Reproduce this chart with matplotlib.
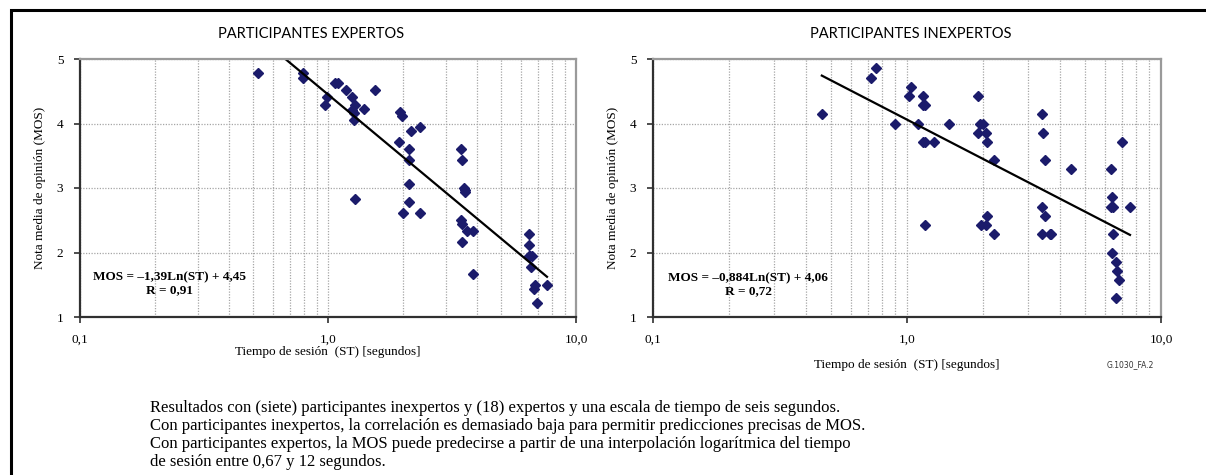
import numpy as np
import matplotlib
matplotlib.use("Agg")
import matplotlib.pyplot as plt
from matplotlib.patches import Rectangle
from matplotlib.ticker import FixedLocator, NullFormatter, LogLocator

# ---------------- data ----------------
exp_st = [0.523, 0.794, 0.794, 0.972, 0.989, 1.066, 1.096, 1.185, 1.245, 1.28,
          1.25, 1.27, 1.27, 1.395, 1.546, 1.95, 1.99, 2.16, 2.34, 1.94,
          2.12, 2.12, 3.44, 3.48, 2.12, 1.28, 2.12, 2.01, 2.34, 3.55,
          3.58, 3.58, 3.43, 3.48, 3.63, 3.83, 3.48, 3.83, 6.47, 6.47,
          6.47, 6.55, 6.65, 6.6, 6.82, 6.75, 7.64, 6.97]
exp_mos = [4.79, 4.79, 4.70, 4.29, 4.41, 4.63, 4.63, 4.52, 4.41, 4.29,
           4.21, 4.17, 4.06, 4.23, 4.52, 4.18, 4.11, 3.89, 3.95, 3.72,
           3.60, 3.44, 3.60, 3.44, 3.06, 2.83, 2.78, 2.61, 2.61, 3.00,
           2.97, 2.94, 2.50, 2.44, 2.33, 2.33, 2.17, 1.67, 2.28, 2.11,
           1.94, 1.94, 1.94, 1.78, 1.50, 1.44, 1.50, 1.22]

inx_st = [0.462, 0.719, 0.753, 0.894, 1.02, 1.04, 1.107, 1.155, 1.155, 1.175,
          1.155, 1.175, 1.274, 1.47, 1.90, 1.94, 1.99, 1.90, 2.04, 2.06,
          2.21, 3.39, 3.43, 3.49, 7.01, 4.44, 6.38, 1.175, 1.95, 2.04,
          2.06, 2.21, 3.39, 3.49, 3.41, 3.64, 3.70, 6.42, 6.38, 6.50,
          7.55, 6.50, 6.42, 6.68, 6.74, 6.83, 6.68]
inx_mos = [4.14, 4.71, 4.86, 4.00, 4.43, 4.57, 4.00, 4.43, 4.29, 4.29,
           3.71, 3.71, 3.71, 4.00, 4.43, 4.00, 4.00, 3.86, 3.86, 3.71,
           3.43, 4.14, 3.86, 3.43, 3.71, 3.29, 3.29, 2.43, 2.43, 2.43,
           2.57, 2.29, 2.71, 2.57, 2.29, 2.29, 2.29, 2.86, 2.71, 2.71,
           2.71, 2.29, 2.00, 1.86, 1.71, 1.57, 1.29]

# regression (as printed on the chart) and its plotted ST range
exp_fit = (-1.39, 4.45)
exp_fit_range = [0.673, 7.64]
inx_fit = (-0.884, 4.06)
inx_fit_range = [0.462, 7.55]

titles = ["PARTICIPANTES EXPERTOS", "PARTICIPANTES INEXPERTOS"]
eq_texts = ["MOS = \u20131,39Ln(ST) + 4,45\nR = 0,91",
            "MOS = \u20130,884Ln(ST) + 4,06\nR = 0,72"]
xtick_vals = [0.1, 1.0, 10.0]
xtick_labels = ["0,1", "1,0", "10,0"]
ytick_vals = [1, 2, 3, 4, 5]
ylabel = "Nota media de opini\u00f3n (MOS)"
xlabel = "Tiempo de sesi\u00f3n  (ST) [segundos]"
caption = ["Resultados con (siete) participantes inexpertos y (18) expertos y una escala de tiempo de seis segundos.",
           "Con participantes inexpertos, la correlaci\u00f3n es demasiado baja para permitir predicciones precisas de MOS.",
           "Con participantes expertos, la MOS puede predecirse a partir de una interpolaci\u00f3n logar\u00edtmica del tiempo",
           "de sesi\u00f3n entre 0,67 y 12 segundos."]
fig_code = "G.1030_FA.2"

# ---------------- figure ----------------
W, H = 1206, 475
fig = plt.figure(figsize=(W / 100, H / 100), dpi=100)
SERIF = "Liberation Serif"
SANS = "Lato"

def px(x, y):
    return x / W, 1 - y / H

# outer frame
fig.patches.append(Rectangle(px(11, 600), 2.0, (600 - 10) / H, transform=fig.transFigure,
                             fill=False, edgecolor="black", linewidth=2.2))

axes_px = [(80, 576), (653, 1161)]
top, bottom = 59, 317
datasets = [(exp_st, exp_mos, exp_fit, exp_fit_range),
            (inx_st, inx_mos, inx_fit, inx_fit_range)]
title_x = [311, 911]
xlabel_pos = [(328, 352), (907, 365)]
eq_pos = [(0.23, 1.52), (0.237, 1.50)]

for i, ((x0, x1), (st, mos, fit, frange)) in enumerate(zip(axes_px, datasets)):
    ax = fig.add_axes([x0 / W, 1 - bottom / H, (x1 - x0) / W, (bottom - top) / H])
    ax.set_xscale("log")
    ax.set_xlim(0.1, 10)
    ax.set_ylim(1, 5)
    # grid
    ax.xaxis.set_major_locator(FixedLocator(xtick_vals))
    ax.xaxis.set_minor_locator(LogLocator(base=10, subs=np.arange(2, 10)))
    ax.xaxis.set_minor_formatter(NullFormatter())
    ax.set_xticklabels(xtick_labels)
    ax.set_yticks(ytick_vals)
    ax.set_yticklabels([str(v) for v in ytick_vals])
    ax.grid(True, which="both", axis="x", linestyle=(0, (1, 1.2)), color="#a6a6a6", linewidth=0.9)
    ax.grid(True, which="major", axis="y", linestyle=(0, (1, 1.2)), color="#a6a6a6", linewidth=0.9)
    ax.set_axisbelow(True)
    ax.tick_params(which="major", direction="out", length=4, width=1.2, color="#303030",
                   labelsize=9.5, pad=8)
    ax.tick_params(which="minor", length=0)
    for lab in ax.get_xticklabels() + ax.get_yticklabels():
        lab.set_fontfamily(SERIF)
    for s in ["left", "bottom"]:
        ax.spines[s].set_color("#303030")
        ax.spines[s].set_linewidth(1.6)
    for s in ["top", "right"]:
        ax.spines[s].set_color("#9a9a9a")
        ax.spines[s].set_linewidth(1.6)
    # points
    ax.plot(st, mos, linestyle="none", marker="D", markersize=4.6,
            markerfacecolor="#1b1b6b", markeredgecolor="#1b1b6b")
    # regression line
    xs = np.array(frange)
    ax.plot(xs, fit[0] * np.log(xs) + fit[1], color="black", linewidth=1.6)
    ax.text(eq_pos[i][0], eq_pos[i][1], eq_texts[i], ha="center", va="center",
            fontsize=9.5, fontweight="bold", family=SERIF, linespacing=1.15)
    # labels
    ax.set_ylabel(ylabel, family=SERIF, fontsize=9.5)
    ax.yaxis.set_label_coords(-34 / (x1 - x0), 0.5)
    fig.text(*px(*xlabel_pos[i]), xlabel, ha="center", va="center", family=SERIF, fontsize=9.5)
    fig.text(*px(title_x[i], 34), titles[i], ha="center", va="center", family=SANS, fontsize=10.5)

fig.text(*px(1130, 365), fig_code, ha="center", va="center", family="DejaVu Sans",
         fontsize=5.5, color="#333333")

for k, line in enumerate(caption):
    fig.text(*px(150, 408 + 18 * k), line, ha="left", va="center", family=SERIF, fontsize=12)

fig.savefig("out.png", dpi=100)
